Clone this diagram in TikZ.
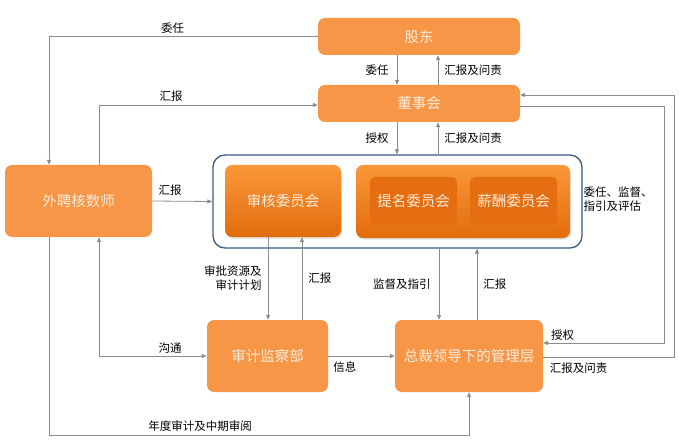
\documentclass[tikz,border=0pt]{standalone}
\usepackage{fontspec}
\setmainfont{Noto Sans CJK SC}
\usetikzlibrary{arrows.meta,shadows}
\definecolor{boxorange}{RGB}{247,150,70}
\definecolor{boxtext}{RGB}{253,236,220}
\definecolor{cmtetop}{RGB}{250,152,58}
\definecolor{cmtebot}{RGB}{226,108,12}
\definecolor{subfill}{RGB}{228,110,16}
\definecolor{framblue}{RGB}{60,90,130}
\definecolor{linegray}{RGB}{140,140,140}
\tikzset{
  box/.style={fill=boxorange, rounded corners=7pt, text=boxtext, inner sep=0pt,
    font=\fontsize{14.5}{17}\selectfont},
  frame/.style={draw=framblue, line width=1.3pt, fill=white, rounded corners=12pt, inner sep=0pt},
  cmte/.style={top color=cmtetop, bottom color=cmtebot, rounded corners=7pt, text=boxtext,
    inner sep=0pt, font=\fontsize{14.5}{17}\selectfont,
    drop shadow={opacity=0.25, shadow xshift=1pt, shadow yshift=-1.5pt}},
  subbox/.style={fill=subfill, rounded corners=5pt, text=boxtext, inner sep=0pt,
    minimum width=87pt, minimum height=48pt, font=\fontsize{14.5}{17}\selectfont},
  conn/.style={draw=linegray, line width=0.8pt, -{Triangle[length=5pt,width=4pt]}},
  lbl/.style={font=\fontsize{11.5}{14}\selectfont, text=black, inner sep=2pt}
}
\begin{document}
\begin{tikzpicture}[x=1pt,y=-1pt]
\useasboundingbox (0,0) rectangle (679,446);
% boxes
\node[box, minimum width=202pt, minimum height=37pt] (gd)  at (419,36.5)  {股东};
\node[box, minimum width=202pt, minimum height=37pt] (dsh) at (419,103.5) {董事会};
\node[box, minimum width=147pt, minimum height=72pt] (wp)  at (78.5,201)  {外聘核数师};
\node[frame, minimum width=369pt, minimum height=93pt] (wyh) at (397.5,201.5) {};
\node[cmte, minimum width=116pt, minimum height=72pt] (shw) at (283,201) {审核委员会};
\node[cmte, minimum width=214pt, minimum height=73pt] (grp) at (463,201.5) {};
\node[subbox] (tm) at (413.5,201) {提名委员会};
\node[subbox] (xc) at (513.5,201) {薪酬委员会};
\node[box, minimum width=121pt, minimum height=72pt] (sj) at (267.5,356) {审计监察部};
\node[box, minimum width=148pt, minimum height=72pt] (zc) at (469,356)  {总裁领导下的管理层};
\node[lbl, align=left] (note) at (618,199) {委任、监督、\\指引及评估};

% connectors
\draw[conn] (gd.west) -| node[lbl, pos=0.27, above=1pt] {委任} ([xshift=-29.5pt]wp.north);
\draw[conn] ([xshift=20.5pt]wp.north) |- node[lbl, pos=0.665, above=1pt] {汇报} ([yshift=-1.5pt]dsh.west);
\draw[conn] ([xshift=-22pt]gd.south) -- node[lbl, midway, left=6pt] {委任} ([xshift=-22pt]dsh.north);
\draw[conn] ([xshift=19pt]dsh.north) -- node[lbl, midway, right=4pt] {汇报及问责} ([xshift=19pt]gd.south);
\draw[conn] ([xshift=-22pt]dsh.south) -- node[lbl, midway, left=6pt] {授权} ([xshift=-0.5pt]wyh.north);
\draw[conn] ([xshift=40.5pt]wyh.north) -- node[lbl, midway, right=4pt] {汇报及问责} ([xshift=19pt]dsh.south);
\draw[conn] (wp.east) -- node[lbl, pos=0.3, above=3pt] {汇报} (wyh.west);
\draw[conn] ([xshift=-15pt]shw.south) -- node[lbl, midway, left=4pt, align=right] {审批资源及\\审计计划} ([xshift=-15pt]shw.south |- sj.north);
\draw[conn] ([xshift=34.5pt]sj.north) -- node[lbl, midway, right=4pt] {汇报} ([xshift=19pt]shw.south);
\draw[conn] ([xshift=41.5pt]wyh.south) -- node[lbl, midway, left=6pt] {监督及指引} ([xshift=-30pt]zc.north);
\draw[conn] ([xshift=8pt]zc.north) -- node[lbl, midway, right=4pt] {汇报} ([xshift=79.5pt]wyh.south);
\draw[conn, {Triangle[length=5pt,width=4pt]}-{Triangle[length=5pt,width=4pt]}] ([xshift=20.5pt]wp.south) |- node[lbl, pos=0.83, above] {沟通} (sj.west);
\draw[conn] ([xshift=-29.5pt]wp.south) -- ++(0,198) -| node[lbl, pos=0.18, above=1pt] {年度审计及中期审阅} (zc.south);
\draw[conn] (sj.east) -- node[lbl, pos=0.25, below=3pt] {信息} (zc.west);
\draw[conn] ([yshift=-2.5pt]dsh.east) -- ++(144,0) |- node[lbl, pos=0.92, above] {授权} ([yshift=13pt]zc.east);
\draw[conn] ([yshift=-1pt]zc.east) -- node[lbl, pos=0.27, below=3pt] {汇报及问责} ++(131,0) |- ([yshift=8.5pt]dsh.east);
\end{tikzpicture}
\end{document}
